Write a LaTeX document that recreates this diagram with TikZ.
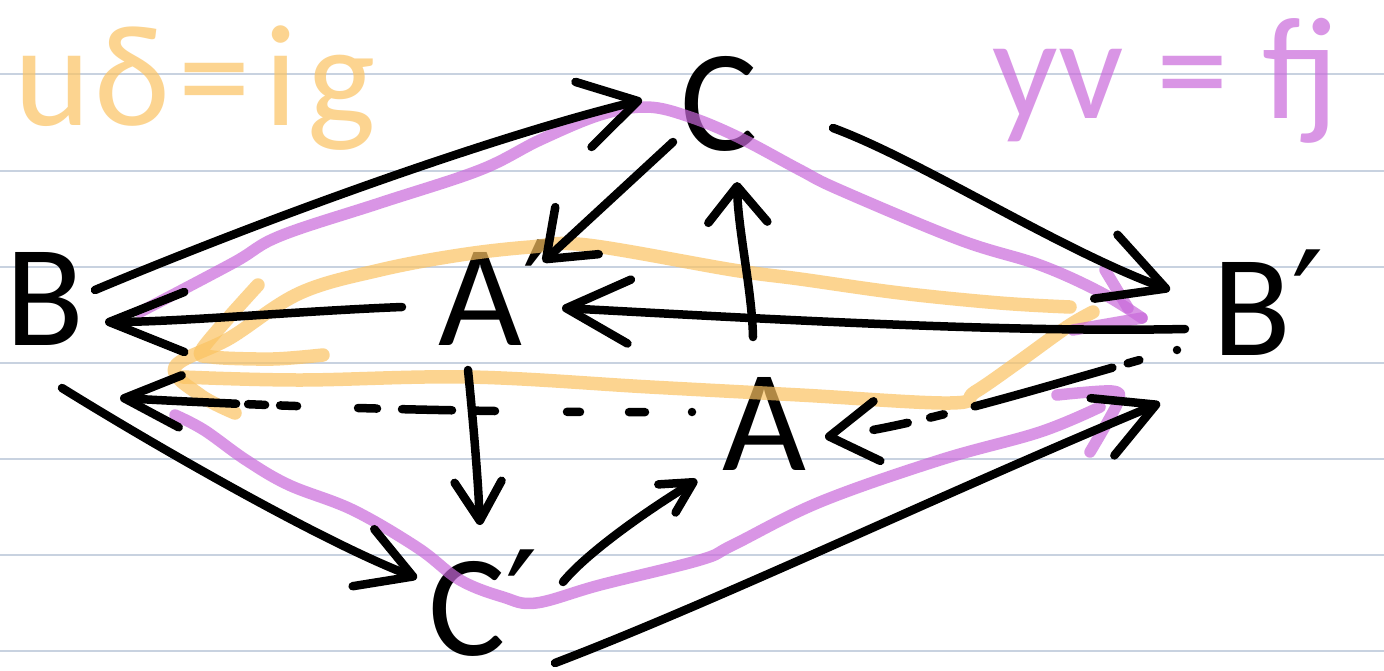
\documentclass[tikz,border=0pt]{standalone}
\usepackage{fontspec}
\setmainfont{Carlito}
\newfontfamily\primefont{DejaVu Sans}
\usetikzlibrary{arrows.meta}

\definecolor{rulecol}{RGB}{200,210,224}
\definecolor{hlorange}{RGB}{251,195,98}
\definecolor{hlpurple}{RGB}{201,105,219}

\newcommand{\pr}{{\primefont ′}}

\begin{document}
\begin{tikzpicture}[x=1pt,y=-1pt,
  letter/.style={inner sep=0pt, anchor=base west, font=\fontsize{145}{145}\selectfont},
  ink/.style={draw=black, line width=8.5pt, line cap=round, line join=round},
  barbhead/.style 2 args={-{Straight Barb[length=#1pt,width=#2pt,round]}},
  hlo/.style={draw=hlorange, line width=13.5pt, line cap=round, line join=round, opacity=0.7},
  hlp/.style={draw=hlpurple, line width=11.5pt, line cap=round, line join=round, opacity=0.7},
  ruling/.style={draw=rulecol, line width=2.2pt},
  eqnote/.style={inner sep=0pt, anchor=base west, font=\fontsize{145}{145}\selectfont, opacity=0.7}
]
\useasboundingbox (0,0) rectangle (1384,670);
\fill[white] (0,0) rectangle (1384,670);

% ruled paper
\foreach \yy in {74,171,267,363,459,555,651}
  \draw[ruling] (0,\yy) -- (1384,\yy);

% equations
\node[eqnote, text=hlorange] (eqo) at (14,125) {u\kern4ptδ\kern8pt=\kern14pt i\kern10pt g};
\node[eqnote, text=hlpurple] (eqp) at (992,118) {yv = fj};

% objects
\node[letter] (B)  at (5,345)    {B};
\node[letter] (C)  at (680,150)  {C};
\node[letter] (Ap) at (438,345)  {A\pr};
\node[letter] (Bp) at (1212,355) {B\pr};
\node[letter] (A)  at (722,470)  {A};
\node[letter] (Cp) at (428,655)  {C\pr};

% highlighted routes (orange)
\draw[hlo] plot[smooth, tension=0.6] coordinates {(1070,307) (1000,303) (900,293) (800,279) (733,270) (587,245) (530,247) (460,255) (380,270) (300,293) (230,338) (175,367) (200,395) (235,413)};
\draw[hlo] plot[smooth, tension=0.6] coordinates {(183,377) (300,380) (470,377) (650,387) (800,395) (950,403) (975,392) (1017,363) (1067,327) (1093,312)};
\draw[hlo] plot[smooth, tension=0.5] coordinates {(258,285) (203,348) (212,357) (273,359) (323,355)};

% highlighted routes (purple)
\draw[hlp] plot[smooth, tension=0.6] coordinates {(140,312) (233,263) (280,236) (380,203) (480,170) (540,140) (600,115) (647,107) (690,117) (740,138) (800,170) (840,190) (960,240) (1040,265) (1100,292) (1142,318)};
\draw[hlp] (1105,270) -- (1128,308);
\draw[hlp] (1073,330) -- (1142,318);
\draw[hlp] plot[smooth, tension=0.6] coordinates {(175,415) (204,430) (246,460) (289,485) (353,510) (418,548) (460,580) (503,597) (536,603) (600,585) (700,560) (733,545) (820,502) (940,460) (1040,432) (1100,407)};
\draw[hlp] plot[smooth, tension=0.5] coordinates {(1057,395) (1112,391) (1118,402) (1090,452)};

% arrows
\draw[ink, barbhead={56}{67}] ([shift={(90,-55)}]B.base west) .. controls (250,225) and (480,140) .. ([shift={(-38,-50)}]C.base west);
\draw[ink, barbhead={42}{64}] ([shift={(-7,-8)}]C.base west) -- ([shift={(105,-83)}]Ap.base west);
\draw[ink, barbhead={64}{68}] ([shift={(153,-22)}]C.base west) .. controls (920,160) and (1060,250) .. ([shift={(-42,-65)}]Bp.base west);
\draw[ink, barbhead={63}{64}] ([shift={(-27,-26)}]Bp.base west) .. controls (1000,333) and (750,318) .. ([shift={(124,-37)}]Ap.base west);
\draw[ink, barbhead={75}{60}] ([shift={(-36,-38)}]Ap.base west) .. controls (300,311) and (180,322) .. ([shift={(100,-23)}]B.base west);
\draw[ink, barbhead={36}{59}] ([shift={(31,-133)}]A.base west) .. controls (752,290) and (738,230) .. ([shift={(57,32)}]C.base west);
\draw[ink, barbhead={39}{47}] ([shift={(30,25)}]Ap.base west) .. controls (474,430) and (478,480) .. ([shift={(52,-130)}]Cp.base west);
\draw[ink, barbhead={56}{52}, dash pattern=on 0pt off 47pt on 16pt off 49pt on 13pt off 72pt on 20pt off 23pt on 50pt off 25pt on 19pt off 61pt on 17pt off 15pt on 17pt off 12pt on 200pt]
  ([shift={(-30,-58)}]A.base west) .. controls (500,413) and (300,408) .. ([shift={(115,53)}]B.base west);
\draw[ink, barbhead={48}{60}, dash pattern=on 0pt off 39pt on 12pt off 16pt on 143pt off 32pt on 14pt off 23pt on 35pt off 100pt]
  ([shift={(-35,-5)}]Bp.base west) .. controls (1090,372) and (930,425) .. ([shift={(103,-33)}]A.base west);
\draw[ink, barbhead={53}{61}] ([shift={(57,43)}]B.base west) .. controls (170,455) and (330,545) .. ([shift={(-11,-77)}]Cp.base west);
\draw[ink, barbhead={31}{33}] ([shift={(135,-73)}]Cp.base west) .. controls (585,555) and (640,515) .. ([shift={(-25,10)}]A.base west);
\draw[ink, barbhead={58}{62}] ([shift={(127,8)}]Cp.base west) .. controls (720,600) and (950,490) .. ([shift={(-52,48)}]Bp.base west);
\end{tikzpicture}
\end{document}
